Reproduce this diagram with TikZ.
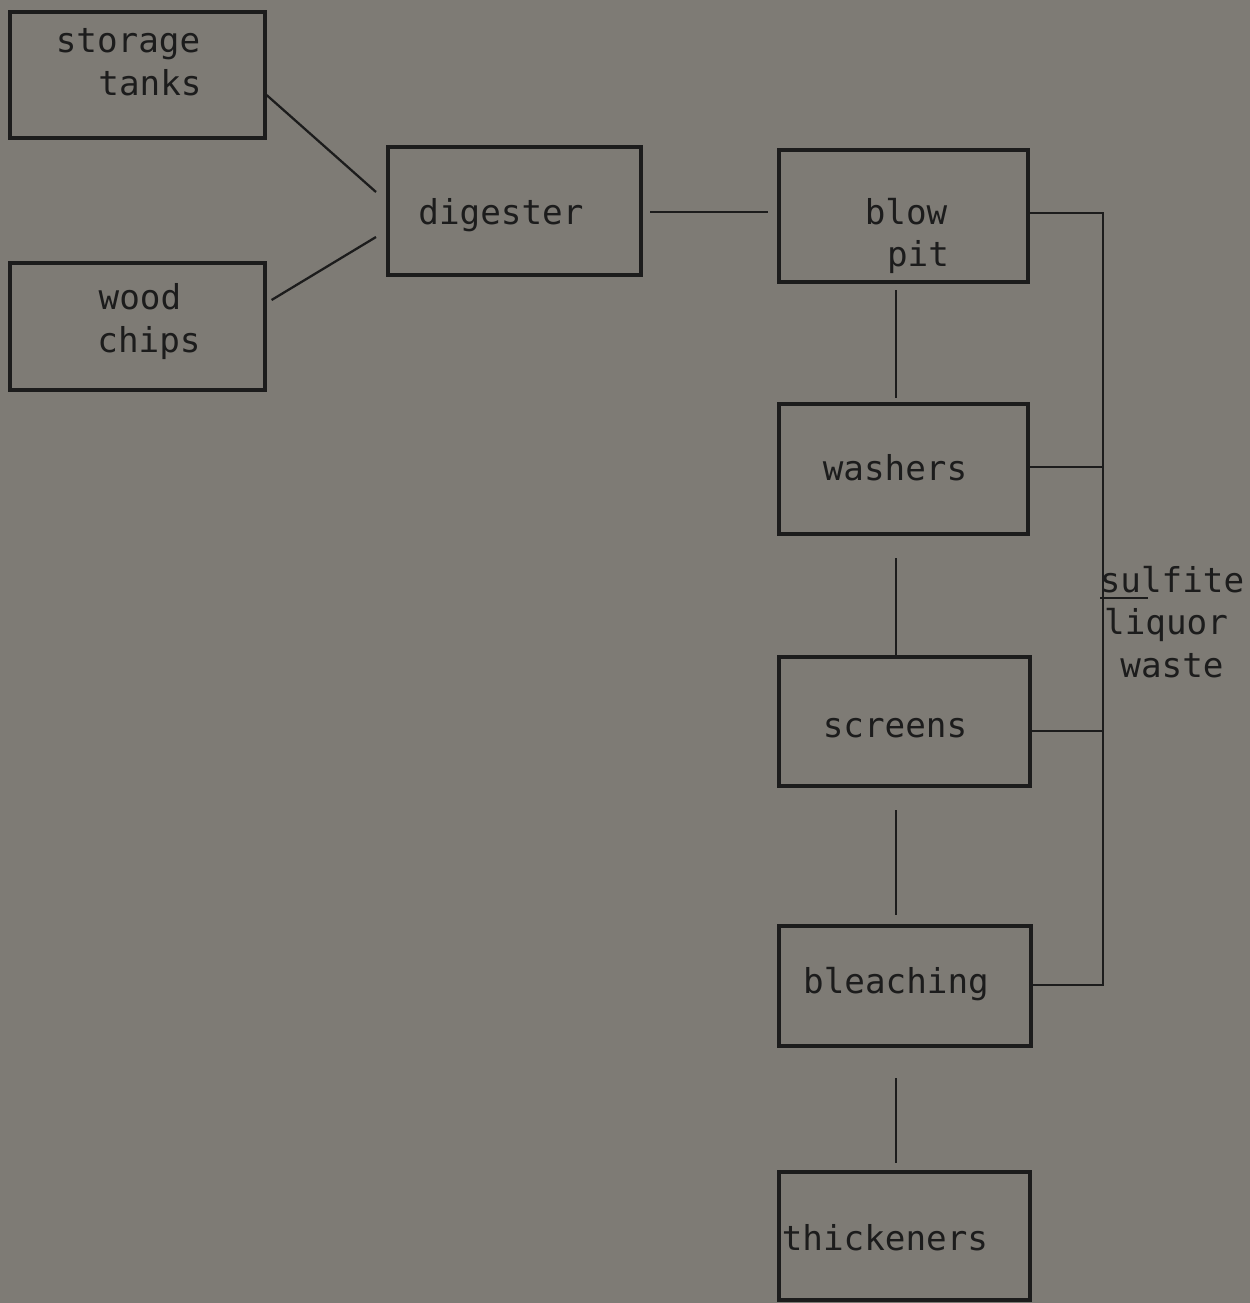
\documentclass[tikz,border=0pt]{standalone}
\usepackage{fontspec}
\setmonofont{DejaVu Sans Mono}
\definecolor{bg}{HTML}{7E7B75}
\definecolor{ink}{HTML}{1C1C1C}
\tikzset{
  blk/.style={draw=ink, line width=1.8pt, inner sep=0pt},
  txt/.style={text=ink, font=\ttfamily\fontsize{19.5}{22}\selectfont, inner sep=0pt, anchor=base},
  wire/.style={draw=ink, line width=1.3pt}
}
\begin{document}
\begin{tikzpicture}[x=0.02cm,y=-0.02cm]
\fill[bg] (0,0) rectangle (1250,1303);
\useasboundingbox (0,0) rectangle (1250,1303);
% boxes
\node[blk, minimum width=255*0.02cm, minimum height=126*0.02cm] (st) at (137.5,75) {};
\node[blk, minimum width=255*0.02cm, minimum height=127*0.02cm] (wc) at (137.5,326.5) {};
\node[blk, minimum width=253*0.02cm, minimum height=128*0.02cm] (dg) at (514.5,211) {};
\node[blk, minimum width=249*0.02cm, minimum height=132*0.02cm] (bp) at (903.5,216) {};
\node[blk, minimum width=249*0.02cm, minimum height=130*0.02cm] (wa) at (903.5,469) {};
\node[blk, minimum width=251*0.02cm, minimum height=129*0.02cm] (sc) at (904.5,721.5) {};
\node[blk, minimum width=252*0.02cm, minimum height=120*0.02cm] (bl) at (905,986) {};
\node[blk, minimum width=251*0.02cm, minimum height=128*0.02cm] (th) at (904.5,1236) {};
% texts
\node[txt] (t1) at (128,52) {storage};
\node[txt] (t2) at (150,95) {tanks};
\node[txt] (t3) at (140,309) {wood};
\node[txt] (t4) at (149,352) {chips};
\node[txt] (t5) at (501,224) {digester};
\node[txt] (t6) at (906,224) {blow};
\node[txt] (t7) at (918,266) {pit};
\node[txt] (t8) at (895,480) {washers};
\node[txt] (t9) at (895,737) {screens};
\node[txt] (t10) at (896,993) {bleaching};
\node[txt] (t11) at (885,1250) {thickeners};
\node[txt] (s1) at (1172,592) {sulfite};
\node[txt] (s2) at (1166,634) {liquor};
\node[txt] (s3) at (1172,677) {waste};
% connectors
\coordinate (a1) at (376,192);
\coordinate (a2) at (376,237);
\draw[wire] (st.east |- 0,95) -- (a1);
\draw[wire] (wc.east |- 0,300) ++(5,0) -- (a2);
\draw[wire] (650,212) -- (768,212);
\draw[wire] (896,290) -- (896,398);
\draw[wire] (896,558) -- (896,655);
\draw[wire] (896,810) -- (896,915);
\draw[wire] (896,1078) -- (896,1163);
% sulfite bus
\coordinate (b1) at (1103,213);
\coordinate (b2) at (1103,467);
\coordinate (b3) at (1103,731);
\coordinate (b4) at (1103,985);
\draw[wire] (bp.east |- b1) -- (b1) -- (b4) -- (bl.east |- b4);
\draw[wire] (wa.east |- b2) -- (b2);
\draw[wire] (sc.east |- b3) -- (b3);
\draw[wire] (1100,598) -- (1148,598);
\end{tikzpicture}
\end{document}
